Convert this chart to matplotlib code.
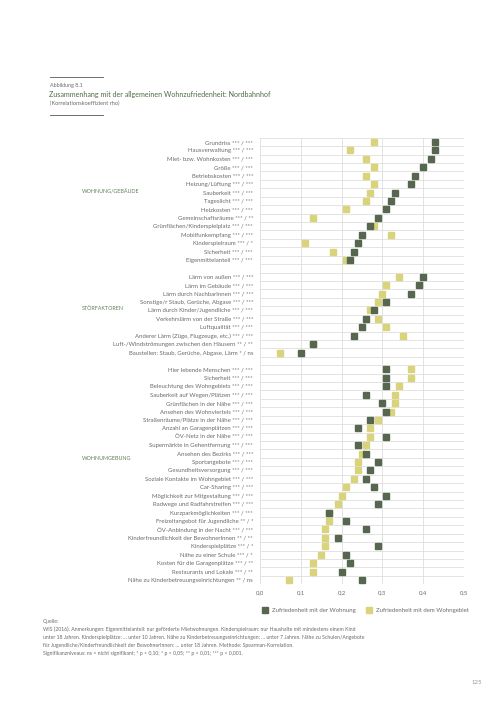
import matplotlib
matplotlib.use("Agg")
import matplotlib.pyplot as plt
import matplotlib.transforms as mtransforms
from matplotlib.lines import Line2D

plt.rcParams['font.family'] = ['Lato', 'DejaVu Sans']

# ---------------- data ----------------
wohnung_labels = [
    "Grundriss *** / ***", "Hausverwaltung *** / ***", "Miet- bzw. Wohnkosten *** / ***",
    "Größe *** / ***", "Betriebskosten *** / ***", "Heizung/Lüftung *** / ***",
    "Sauberkeit *** / ***", "Tageslicht *** / ***", "Heizkosten *** / ***",
    "Gemeinschaftsräume *** / **", "Grünflächen/Kinderspielplatz *** / ***",
    "Mobilfunkempfang *** / ***", "Kinderspielraum *** / *", "Sicherheit *** / ***",
    "Eigenmittelanteil *** / ***",
]
wohnung_wohnung = [0.43, 0.43, 0.42, 0.40, 0.38, 0.37, 0.33, 0.32, 0.31, 0.29, 0.27, 0.25, 0.24, 0.23, 0.22]
wohnung_gebiet = [0.28, 0.22, 0.26, 0.28, 0.26, 0.28, 0.27, 0.26, 0.21, 0.13, 0.28, 0.32, 0.11, 0.18, 0.21]

stoer_labels = [
    "Lärm von außen *** / ***", "Lärm im Gebäude *** / ***", "Lärm durch NachbarInnen *** / ***",
    "Sonstige/r Staub, Gerüche, Abgase *** / ***", "Lärm durch Kinder/Jugendliche *** / ***",
    "Verkehrslärm von der Straße *** / ***", "Luftqualität *** / ***",
    "Anderer Lärm (Züge, Flugzeuge, etc.) *** / ***",
    "Luft-/Windströmungen zwischen den Häusern ** / **",
    "Baustellen: Staub, Gerüche, Abgase, Lärm * / ns",
]
stoer_wohnung = [0.40, 0.39, 0.37, 0.31, 0.28, 0.26, 0.25, 0.23, 0.13, 0.10]
stoer_gebiet = [0.34, 0.31, 0.30, 0.29, 0.27, 0.29, 0.31, 0.35, 0.13, 0.05]

umgeb_labels = [
    "Hier lebende Menschen *** / ***", "Sicherheit *** / ***",
    "Beleuchtung des Wohngebiets *** / ***", "Sauberkeit auf Wegen/Plätzen *** / ***",
    "Grünflächen in der Nähe *** / ***", "Ansehen des Wohnviertels *** / ***",
    "Straßenräume/Plätze in der Nähe *** / ***", "Anzahl an Garagenplätzen *** / ***",
    "ÖV-Netz in der Nähe *** / ***", "Supermärkte in Gehentfernung *** / ***",
    "Ansehen des Bezirks *** / ***", "Sportangebote *** / ***",
    "Gesundheitsversorgung *** / ***", "Soziale Kontakte im Wohngebiet *** / ***",
    "Car-Sharing *** / ***", "Möglichkeit zur Mitgestaltung *** / ***",
    "Radwege und Radfahrstreifen *** / ***", "Kurzparkmöglichkeiten *** / ***",
    "Freizeitangebot für Jugendliche ** / *", "ÖV-Anbindung in der Nacht *** / ***",
    "Kinderfreundlichkeit der BewohnerInnen ** / **", "Kinderspielplätze *** / *",
    "Nähe zu einer Schule *** / *", "Kosten für die Garagenplätze *** / **",
    "Restaurants und Lokale *** / **", "Nähe zu Kinderbetreuungseinrichtungen ** / ns",
]
umgeb_wohnung = [0.31, 0.31, 0.31, 0.26, 0.30, 0.31, 0.27, 0.24, 0.31, 0.24, 0.26, 0.29, 0.27,
                 0.26, 0.28, 0.31, 0.29, 0.17, 0.21, 0.26, 0.19, 0.29, 0.21, 0.22, 0.20, 0.25]
umgeb_gebiet = [0.37, 0.37, 0.34, 0.33, 0.33, 0.32, 0.29, 0.27, 0.27, 0.26, 0.25, 0.24, 0.24,
                0.23, 0.21, 0.20, 0.19, 0.17, 0.17, 0.16, 0.16, 0.16, 0.15, 0.13, 0.13, 0.07]

group_names = ["WOHNUNG/GEBÄUDE", "STÖRFAKTOREN", "WOHNUMGEBUNG"]
x_ticks = [0.0, 0.1, 0.2, 0.3, 0.4, 0.5]
x_ticklabels = ["0,0", "0,1", "0,2", "0,3", "0,4", "0,5"]
series_names = ["Zufriedenheit mit der Wohnung", "Zufriedenheit mit dem Wohngebiet"]

# ---------------- build rows ----------------
groups = [
    (wohnung_labels, wohnung_wohnung, wohnung_gebiet),
    (stoer_labels, stoer_wohnung, stoer_gebiet),
    (umgeb_labels, umgeb_wohnung, umgeb_gebiet),
]
ypos, labels, v_w, v_g = [], [], [], []
slot = 0
for lab, w, g in groups:
    for i in range(len(lab)):
        ypos.append(slot)
        labels.append(lab[i])
        v_w.append(w[i])
        v_g.append(g[i])
        slot += 1
    slot += 1  # gap
n_slots = slot - 1

DARK = "#56664f"
YELLOW = "#d9d37c"
GRID = "#dedede"
TXT = "#6a6a6a"
GREEN_TXT = "#62805a"

fig = plt.figure(figsize=(5.04, 7.12), dpi=100)
ax = fig.add_axes([260 / 504, 1 - 584.2 / 712, 204 / 504, (584.2 - 137.8) / 712])

ax.set_xlim(0, 0.5)
ax.set_ylim(n_slots - 0.5, -0.5)

for k in range(n_slots + 1):
    ax.axhline(k - 0.5, color=GRID, lw=0.6, zorder=0)
for xv in x_ticks:
    ax.axvline(xv, color=GRID, lw=0.6, zorder=0)

ax.plot(v_g, ypos, ls="none", marker="s", ms=4.2, color=YELLOW, zorder=2)
ax.plot(v_w, ypos, ls="none", marker="s", ms=4.2, color=DARK, zorder=3)

for s in ax.spines.values():
    s.set_visible(False)
ax.set_yticks(ypos)
ax.set_yticklabels(labels, fontsize=4.3, color=TXT)
ax.set_xticks(x_ticks)
ax.set_xticklabels(x_ticklabels, fontsize=4.3, color=TXT)
ax.tick_params(axis="both", length=0)
ax.tick_params(axis="y", pad=5)
ax.tick_params(axis="x", pad=4)

# group labels
trans = mtransforms.blended_transform_factory(fig.transFigure, ax.transData)
group_y = [5.9, 19.8, 37.6]
for name, gy in zip(group_names, group_y):
    ax.text(82 / 504, gy, name, transform=trans, fontsize=3.9, color=GREEN_TXT,
            va="center", ha="left")

# legend
handles = [Line2D([], [], ls="none", marker="s", ms=4.2, color=DARK),
           Line2D([], [], ls="none", marker="s", ms=4.2, color=YELLOW)]
fig.legend(handles, series_names, loc="center left", bbox_to_anchor=(257 / 504, 1 - 610 / 712),
           ncol=2, frameon=False, fontsize=4.3, labelcolor=TXT, handletextpad=0.8,
           columnspacing=1.8, handlelength=0.8)

# header
fig.add_artist(Line2D([50 / 504, 103 / 504], [1 - 77 / 712] * 2, color="#555555", lw=0.6))
fig.add_artist(Line2D([50 / 504, 103 / 504], [1 - 115 / 712] * 2, color="#555555", lw=0.6))
fig.text(50 / 504, 1 - 86 / 712, "Abbildung 8.1", fontsize=3.9, color=TXT, va="center")
fig.text(49 / 504, 1 - 95 / 712, "Zusammenhang mit der allgemeinen Wohnzufriedenheit: Nordbahnhof",
         fontsize=5.1, color="#4e6b46", va="center")
fig.text(50 / 504, 1 - 103 / 712, "(Korrelationskoeffizient rho)", fontsize=4.1, color=TXT, va="center")

# footnotes
foot = [
    "Quelle:",
    "WIS (2016). Anmerkungen: Eigenmittelanteil: nur geförderte Mietwohnungen. Kinderspielraum: nur Haushalte mit mindestens einem Kind",
    "unter 18 Jahren. Kinderspielplätze: ... unter 10 Jahren. Nähe zu Kinderbetreuungseinrichtungen: ... unter 7 Jahren. Nähe zu Schulen/Angebote",
    "für Jugendliche/Kinderfreundlichkeit der BewohnerInnen: ... unter 18 Jahren. Methode: Spearman-Korrelation.",
    "Signifikanzniveaus: ns = nicht signifikant; * p < 0,10; * p < 0,05; ** p < 0,01; *** p < 0,001.",
]
foot_y = [621, 629, 637, 645, 653]
for line, fy in zip(foot, foot_y):
    fig.text(43 / 504, 1 - fy / 712, line, fontsize=3.7, color=TXT, va="center")

fig.text(472 / 504, 1 - 683 / 712, "125", fontsize=4.3, color="#999999", va="center", ha="left")

fig.savefig("out.png", dpi=100, facecolor="white")
